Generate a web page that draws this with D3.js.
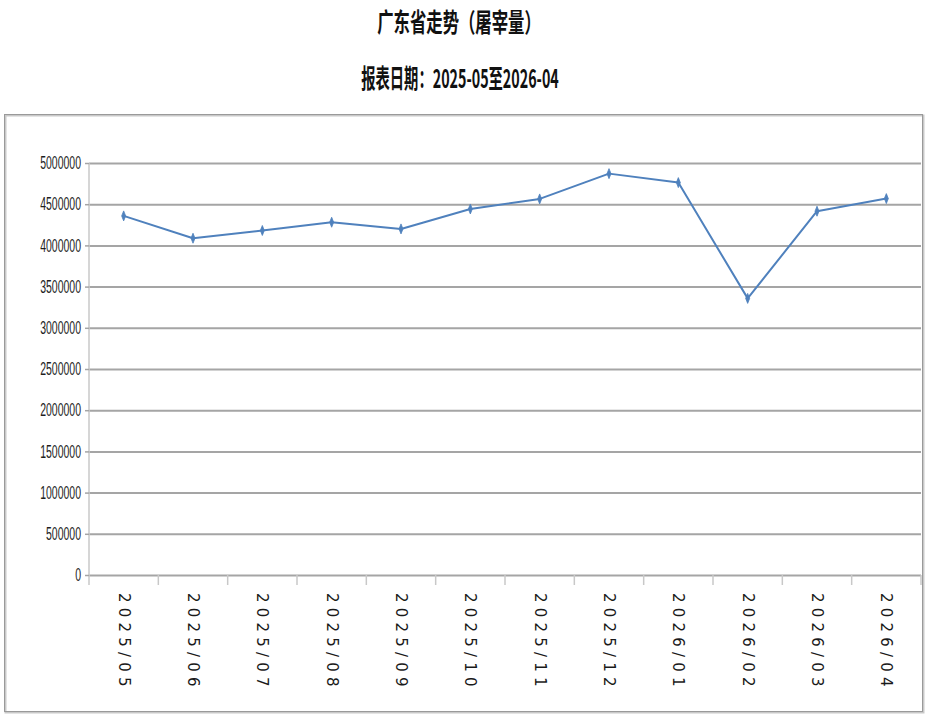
<!DOCTYPE html>
<html>
<head>
<meta charset="utf-8">
<script src="https://cdn.jsdelivr.net/npm/d3@7"></script>
<style>
  body { margin: 0; background: #fff; }
  svg { display: block; }
</style>
</head>
<body>
<div id="chart-area"></div>
<script>
// data
var months = ["2025/05", "2025/06", "2025/07", "2025/08", "2025/09", "2025/10",
              "2025/11", "2025/12", "2026/01", "2026/02", "2026/03", "2026/04"]
var slaughter = [4358000, 4087000, 4181000, 4281000, 4200000, 4442000,
                 4564000, 4871000, 4762000, 3357000, 4415000, 4568000]
var yTicks = [0, 500000, 1000000, 1500000, 2000000, 2500000, 3000000,
              3500000, 4000000, 4500000, 5000000]
var title = "广东省走势（屠宰量）"
var subtitle = "报表日期：2025-05至2026-04"

var cw = 929
var ch = 724
var m = {l: 89, t: 163, r: 8, b: 149}
var w = cw - m.l - m.r
var h = ch - m.t - m.b
var blue = "#4f81bd"

var svg = d3.select("#chart-area").append("svg")
    .attr("width", cw)
    .attr("height", ch)

// titles (the source font is tall and narrow, so squeeze horizontally)
svg.append("text")
    .attr("transform", "translate(459, 32) scale(0.63, 1)")
    .attr("text-anchor", "middle")
    .attr("font-family", "Noto Sans CJK SC")
    .attr("font-weight", "bold")
    .attr("font-size", "26px")
    .attr("fill", "#111")
    .text(title)

svg.append("text")
    .attr("transform", "translate(460, 88) scale(0.55, 1)")
    .attr("text-anchor", "middle")
    .attr("font-family", "Noto Sans CJK SC")
    .attr("font-weight", "bold")
    .attr("font-size", "26px")
    .attr("fill", "#111")
    .text(subtitle)

// outer frame
svg.append("rect")
    .attr("x", 5.5)
    .attr("y", 115.5)
    .attr("width", 918)
    .attr("height", 597)
    .attr("fill", "none")
    .attr("stroke", "#c9c9c9")
    .attr("stroke-width", 2)
svg.append("rect")
    .attr("x", 4.5)
    .attr("y", 114.5)
    .attr("width", 918)
    .attr("height", 597)
    .attr("fill", "none")
    .attr("stroke", "#9a9a9a")
    .attr("stroke-width", 1)

var g = svg.append("g")
    .attr("transform", "translate(" + m.l + ", " + m.t + ")")

var x = d3.scaleBand()
    .domain(months)
    .range([0, w])
    .padding(0)

var y = d3.scaleLinear()
    .domain([0, 5000000])
    .range([h, 0])

// gridlines
var grid = g.append("g")
    .attr("class", "grid")
    .call(d3.axisLeft(y).tickValues(yTicks).tickSize(-w).tickFormat(""))
grid.select(".domain").remove()
grid.selectAll("line")
    .attr("stroke", "#a5a5a5")
    .attr("stroke-width", 2)

// category boundary ticks below the baseline
g.append("g")
    .attr("class", "x ticks")
    .selectAll("line")
    .data(months.slice(1).concat(["end"]))
    .enter().append("line")
        .attr("x1", (d, i) => i < months.length - 1 ? x(d) : w)
        .attr("x2", (d, i) => i < months.length - 1 ? x(d) : w)
        .attr("y1", h)
        .attr("y2", h + 10)
        .attr("stroke", "#c8c8c8")
        .attr("stroke-width", 1.5)

// y axis line
g.append("line")
    .attr("x1", 0).attr("x2", 0)
    .attr("y1", 0).attr("y2", h + 10)
    .attr("stroke", "#c8c8c8")
    .attr("stroke-width", 1.5)

// left axis
var leftAxis = d3.axisLeft(y)
    .tickValues(yTicks)
    .tickSize(4)
    .tickPadding(4)
    .tickFormat(d => String(d))

var ya = g.append("g")
    .attr("class", "left axis")
    .call(leftAxis)
ya.select(".domain").remove()
ya.selectAll("line")
    .attr("stroke", "#a5a5a5")
    .attr("stroke-width", 1.5)
ya.selectAll("text")
    .attr("font-family", "Liberation Sans, Arial, sans-serif")
    .attr("font-size", "17.5px")
    .attr("fill", "#1e1e1e")
    .attr("x", 0)
    .attr("transform", "translate(-8, 0) scale(0.6, 1)")

// bottom labels, rotated to read top to bottom
var xa = g.append("g")
    .attr("class", "bottom axis")
    .attr("transform", "translate(0, " + h + ")")
    .call(d3.axisBottom(x).tickSize(0).tickFormat(d => d))
xa.select(".domain").remove()
xa.selectAll("text")
    .attr("font-family", "DejaVu Sans, Verdana, sans-serif")
    .attr("font-size", "15px")
    .attr("letter-spacing", "5.2px")
    .attr("fill", "#1a1a1a")
    .attr("text-anchor", "start")
    .attr("dominant-baseline", "central")
    .attr("x", 0)
    .attr("y", 0)
    .attr("dy", 0)
    .attr("transform", "translate(0, 18) rotate(90)")

// series line
var line = d3.line()
    .x((d, i) => x(months[i]) + x.bandwidth() / 2)
    .y(d => y(d))

g.append("path")
    .datum(slaughter)
    .attr("fill", "none")
    .attr("stroke", blue)
    .attr("stroke-width", 2)
    .attr("stroke-linejoin", "round")
    .attr("d", line)

// markers: slim diamond with a vertical stroke
g.selectAll(".marker")
    .data(slaughter).enter().append("path")
        .attr("class", "marker")
        .attr("transform", (d, i) => "translate(" + (x(months[i]) + x.bandwidth() / 2) + ", " + y(d) + ")")
        .attr("d", "M0,-5L2,0L0,5L-2,0Z")
        .attr("fill", blue)
        .attr("stroke", blue)
        .attr("stroke-width", 0.8)
</script>
</body>
</html>
